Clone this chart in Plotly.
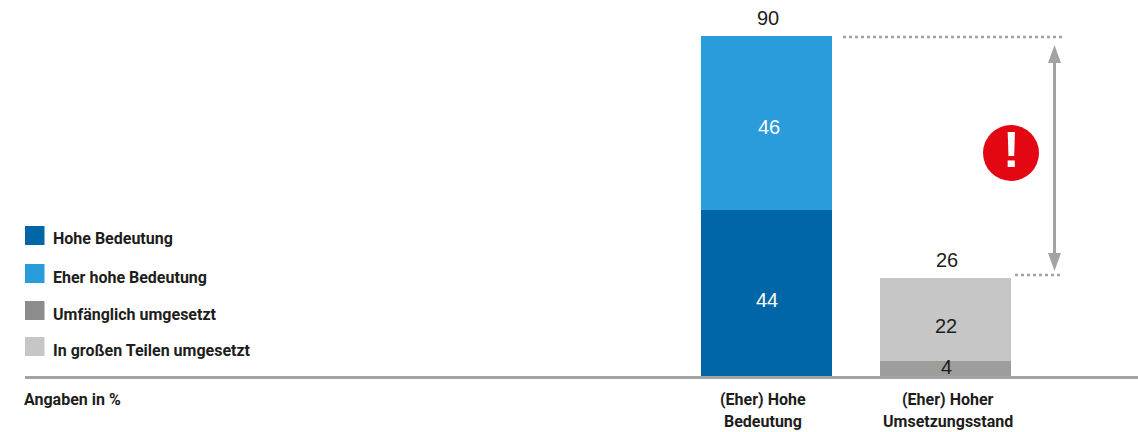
import plotly.graph_objects as go

categories = ["(Eher) Hohe<br>Bedeutung", "(Eher) Hoher<br>Umsetzungsstand"]
series_names = ["Hohe Bedeutung", "Eher hohe Bedeutung", "Umfänglich umgesetzt", "In großen Teilen umgesetzt"]
hohe = [44, None]
eher_hohe = [46, None]
umfaenglich = [None, 4]
grosse_teile = [None, 22]
totals = [90, 26]
note = "Angaben in %"

colors = ["#0066A8", "#2A9BDB", "#9D9D9C", "#C6C6C6"]
legend_colors = ["#0066A8", "#2A9BDB", "#8C8C8C", "#C6C6C6"]
label_colors = ["#FFFFFF", "#FFFFFF", "#1D1D1B", "#1D1D1B"]
label_yshift = [-7, -4, 1, -7]
label_xshift = [1, 3, 1, 1]
total_yshift = [5, 5]
category_xshift = [-3, 3]

W, H = 1138, 432
L, BASE = 25, 376
PX_PER_UNIT = 340 / 90
CAT_STEP = 179
CAT0 = 766
NARROW = dict(family="Roboto", weight=700, size=16, color="#1D1D1B")
ARIAL = "Liberation Sans"
GREY = "#A3A3A2"

def fx(p):
    return (p - L) / (W - L)

def fy(p):
    return 1 - p / BASE

fig = go.Figure()
series = [hohe, eher_hohe, umfaenglich, grosse_teile]
for name, vals, col in zip(series_names, series, colors):
    fig.add_bar(x=categories, y=vals, name=name, marker=dict(color=col, line_width=0), width=131 / CAT_STEP, showlegend=False)

shapes = []
annotations = []

stack = [0, 0]
for vals, col, ys, xs in zip(series, label_colors, label_yshift, label_xshift):
    for i, v in enumerate(vals):
        if v is None:
            continue
        annotations.append(dict(x=categories[i], y=stack[i] + v / 2, xref="x", yref="y", text=str(v), showarrow=False,
                                xshift=xs, yshift=ys, font=dict(family=ARIAL, size=20, color=col)))
        stack[i] += v
for i, t in enumerate(totals):
    annotations.append(dict(x=categories[i], y=t, xref="x", yref="y", text=str(t), showarrow=False, yanchor="bottom",
                            xshift=2, yshift=total_yshift[i], font=dict(family=ARIAL, size=20, color="#1D1D1B")))

# category labels: two lines, spaced wider than a native tick label allows
for i, c in enumerate(categories):
    for line, py in zip(c.split("<br>"), [399, 421]):
        annotations.append(dict(x=c, y=fy(py), xref="x", yref="paper", text=line, showarrow=False, xanchor="center",
                                yanchor="middle", xshift=category_xshift[i], font=NARROW))

for name, col, top, ty in zip(series_names, legend_colors, [226, 264, 301, 337], [239, 277, 314, 350]):
    shapes.append(dict(type="rect", xref="paper", yref="paper", x0=fx(25), x1=fx(44.5), y0=fy(top), y1=fy(top + 19),
                       fillcolor=col, line_width=0))
    annotations.append(dict(x=fx(50.5), y=fy(ty), xref="paper", yref="paper", text=name, showarrow=False,
                            xanchor="left", yanchor="middle", font=NARROW))
annotations.append(dict(x=fx(22), y=fy(399), xref="paper", yref="paper", text=note, showarrow=False,
                        xanchor="left", yanchor="middle", font=NARROW))

for x0, x1, y in [(843, 1062, 37), (1015, 1060, 275)]:
    shapes.append(dict(type="line", xref="paper", yref="paper", x0=fx(x0), x1=fx(x1), y0=fy(y), y1=fy(y),
                       line=dict(color=GREY, width=2.5, dash="dot")))
shapes.append(dict(type="line", xref="paper", yref="paper", x0=fx(1054.5), x1=fx(1054.5), y0=fy(60), y1=fy(256),
                   line=dict(color=GREY, width=3)))
for tip, base in [(45, 63), (271, 253)]:
    shapes.append(dict(type="path", xref="paper", yref="paper",
                       path=f"M {fx(1054.5)} {fy(tip)} L {fx(1061)} {fy(base)} L {fx(1048)} {fy(base)} Z",
                       fillcolor=GREY, line_width=0))
shapes.append(dict(type="circle", xref="paper", yref="paper", x0=fx(983), x1=fx(1039), y0=fy(125), y1=fy(181),
                   fillcolor="#E30613", line_width=0))
annotations.append(dict(x=fx(1011), y=fy(150), xref="paper", yref="paper", text="<b>!</b>", showarrow=False,
                        xanchor="center", yanchor="middle", font=dict(family=ARIAL, size=50, color="#FFFFFF")))

fig.update_layout(
    width=W, height=H, barmode="stack", bargap=0, plot_bgcolor="white", paper_bgcolor="white",
    margin=dict(l=L, r=0, t=0, b=H - BASE, autoexpand=False),
    shapes=shapes, annotations=annotations,
    xaxis=dict(type="category", categoryorder="array", categoryarray=categories,
               range=[(L - CAT0) / CAT_STEP, (W - CAT0) / CAT_STEP], showgrid=False, zeroline=False,
               showline=True, linecolor="#A3A3A2", linewidth=3, ticks="", showticklabels=False),
    yaxis=dict(range=[0, BASE / PX_PER_UNIT], visible=False, showgrid=False, zeroline=False),
)
fig.write_html("out.html", config={"displayModeBar": False},
               post_script="document.body.style.margin='0';document.documentElement.style.overflow='hidden';")
